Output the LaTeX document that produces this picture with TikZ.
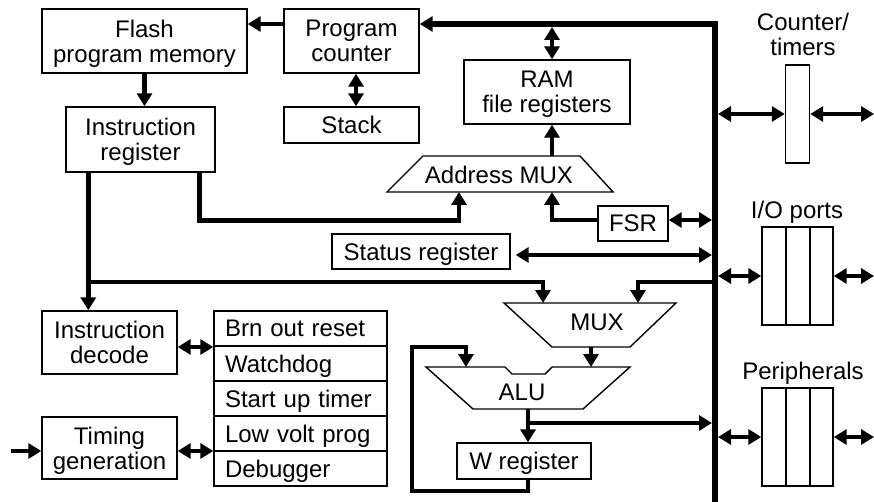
\documentclass[tikz,border=0pt]{standalone}
\usepackage{fontspec}
\setmainfont{Liberation Sans}
\usetikzlibrary{arrows.meta}
\newcommand\dfont{\fontsize{24}{25}\selectfont}
\begin{document}
\begin{tikzpicture}[x=1pt,y=-1pt,
  >={Triangle[length=13pt,width=15pt]},
  box/.style={draw, line width=1.4pt, inner sep=0pt, align=center, text depth=0pt, font=\dfont},
  cell/.style={draw, line width=1.4pt, inner ysep=0pt, inner xsep=11pt, text width=151pt, align=left, text depth=0pt, minimum height=35pt, font=\dfont},
  lbl/.style={inner sep=0pt, align=center, text depth=0pt, font=\dfont},
  trap/.style={draw, line width=1.4pt, line join=miter},
  conn/.style={line width=4.6pt, line join=miter},
  busline/.style={line width=5.6pt, line join=miter}]
\useasboundingbox (0,0) rectangle (874,502);

% boxes
\node[box, minimum width=205pt, minimum height=64pt] (flash) at (144.5,41) {Flash\\program memory};
\node[box, minimum width=135pt, minimum height=64pt] (pc) at (351.5,41) {Program\\counter};
\node[box, minimum width=135pt, minimum height=36pt] (stack) at (351.5,125) {Stack};
\node[box, minimum width=149pt, minimum height=65pt] (ir) at (140.5,139.5) {Instruction\\register};
\node[box, minimum width=166pt, minimum height=64pt] (ram) at (547,92) {RAM\\file registers};
\node[box, minimum width=70pt, minimum height=35pt] (fsr) at (633,223.5) {FSR};
\node[box, minimum width=178pt, minimum height=35pt] (status) at (421,251.5) {Status register};
\node[box, minimum width=135pt, minimum height=63pt] (decode) at (109.5,342.5) {Instruction\\decode};
\node[box, minimum width=135pt, minimum height=62pt] (timing) at (109.5,448) {Timing\\generation};
\node[cell] (c1) at (300.5,328.5) {Brn out reset};
\node[cell] (c2) at (300.5,363.5) {Watchdog};
\node[cell] (c3) at (300.5,398.5) {Start up timer};
\node[cell] (c4) at (300.5,433.5) {Low volt prog};
\node[cell] (c5) at (300.5,468.5) {Debugger};
\node[box, minimum width=134pt, minimum height=36pt] (wreg) at (524,461) {W register};

% right side
\node[lbl] (ctrl) at (803,34) {Counter/\\timers};
\node[box, minimum width=24pt, minimum height=98pt] (ctr) at (797.5,114) {};
\node[lbl] (iol) at (797,210) {I/O ports};
\node[box, minimum width=71pt, minimum height=98pt] (io) at (797.5,276) {};
\draw[line width=1.4pt] (786,227) -- (786,325) (810,227) -- (810,325);
\node[lbl] (perl) at (803,370.5) {Peripherals};
\node[box, minimum width=71pt, minimum height=98pt] (per) at (797.5,437) {};
\draw[line width=1.4pt] (786,388) -- (786,486) (810,388) -- (810,486);

% trapezoids
\draw[trap] (423,156) -- (580,156) -- (613,192) -- (387,192) -- cycle;
\node[lbl] (amux) at (499,174.7) {Address MUX};
\draw[trap] (504,303) -- (676,303) -- (630,347) -- (552,347) -- cycle;
\node[lbl] (mux) at (597,322.5) {MUX};
\draw[trap] (426,367) -- (505,367) -- (512,374) -- (545,374) -- (552,367) -- (630,367) -- (583,409) -- (473,409) -- cycle;
\node[lbl] (alu) at (522,392.5) {ALU};

% coordinates
\coordinate (bustop) at (715,24);
\coordinate (busbot) at (715,502);
\coordinate (bl) at (712,0);
\coordinate (br) at (718,0);
\coordinate (edge) at (874,0);
\coordinate (ramtop) at (552,27);
\coordinate (amo) at (552,156);
\coordinate (ami1) at (459,192);
\coordinate (ami2) at (552,192);
\coordinate (j1) at (89,282);
\coordinate (mi1) at (543,303);
\coordinate (mi2) at (638,303);
\coordinate (mo) at (591,347);
\coordinate (ai1t) at (466,347);
\coordinate (ai1) at (466,367);
\coordinate (ai2) at (591,367);
\coordinate (ao) at (528,409);
\coordinate (j3) at (528,423);
\coordinate (fb) at (412,491);

% bus
\draw[busline,->] (busbot) -- (bustop) -- (bustop -| pc.east);
\draw[conn,->] (pc.west |- bustop) -- (flash.east |- bustop);
\draw[conn,<->] (ramtop) -- (ramtop |- ram.north);
\draw[conn,->] (amo) -- (amo |- ram.south);
\draw[conn,<->] ([xshift=4.5pt]pc.south) -- ([xshift=4.5pt]stack.north);
\draw[conn,->] (flash.south) -- (flash.south |- ir.north);

% instruction register paths
\draw[conn,->] ([xshift=-16pt]ir.south east) -- ++(0,48) -| (ami1);
\draw[conn,->] ([yshift=3.5pt]fsr.west) -| (ami2);
\draw[conn,<->] ([yshift=3.5pt]fsr.east) -- ([yshift=3.5pt]fsr.east -| bl);
\draw[conn,<->] ([shift={(5pt,-3.5pt)}]status.east) -- ([yshift=-3.5pt]status.east -| bl);
\draw[conn,->] ([xshift=23pt]ir.south west) -- ([xshift=23pt]ir.south west |- decode.north);
\draw[conn,->] (j1) -| (mi1);
\draw[conn,->] (bl |- j1) -| (mi2);

% ALU paths
\draw[conn,->] (mo) -- (ai2);
\draw[conn,->] (ao) -- (ao |- wreg.north);
\draw[conn,->] (j3) -- (j3 -| bl);
\draw[conn,->] (wreg.south -| ao) |- (fb) |- (ai1t) -- (ai1);

% left
\draw[conn,<->] ([yshift=-4.5pt]decode.east) -- ([yshift=-4.5pt]decode.east -| c1.west);
\draw[conn,<->] ([yshift=-3pt]timing.east) -- ([yshift=-3pt]timing.east -| c4.west);
\draw[conn,->] ([shift={(-30pt,-3pt)}]timing.west) -- ([yshift=-3pt]timing.west);

% peripherals
\draw[conn,<->] (br |- ctr.west) -- (ctr.west);
\draw[conn,<->] (ctr.east) -- (ctr.east -| edge);
\draw[conn,<->] (br |- io.west) -- (io.west);
\draw[conn,<->] (io.east) -- (io.east -| edge);
\draw[conn,<->] (br |- per.west) -- (per.west);
\draw[conn,<->] (per.east) -- (per.east -| edge);
\end{tikzpicture}
\end{document}
